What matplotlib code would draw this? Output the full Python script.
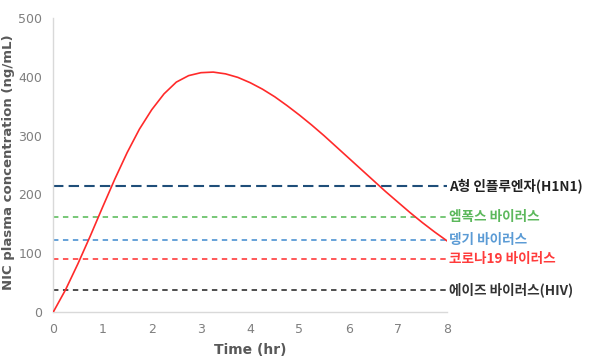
import matplotlib
matplotlib.use('Agg')
import matplotlib.pyplot as plt
from matplotlib import font_manager

# NIC plasma concentration curve
time_hr = [0, 0.25, 0.5, 0.75, 1.0, 1.25, 1.5, 1.75, 2.0, 2.25, 2.5, 2.75, 3.0, 3.25,
           3.5, 3.75, 4.0, 4.25, 4.5, 4.75, 5.0, 5.25, 5.5, 5.75, 6.0, 6.25, 6.5,
           6.75, 7.0, 7.25, 7.5, 7.75, 8.0]
conc = [0, 38, 82, 129, 178, 226, 271, 311, 344, 371, 391, 402, 407, 408,
        405, 399, 390, 379, 366, 351, 335, 318, 300, 281, 262, 243, 224,
        205, 187, 169, 152, 136, 121]

# threshold lines per virus
virus_names = ['A형 인플루엔자(H1N1)', '엠폭스 바이러스', '뎅기 바이러스',
               '코로나19 바이러스', '에이즈 바이러스(HIV)']
virus_levels = [214, 162, 122, 90, 37]
line_colors = ['#1f4e79', '#6cc36c', '#5b9bd5', '#ff4b4b', '#404040']
text_colors = ['#222222', '#5cb85c', '#5b9bd5', '#ff3b3b', '#333333']
dash_styles = [(0, (5, 2.5)), (0, (3, 2.5)), (0, (3, 2.5)), (0, (3, 2.5)), (0, (3, 2.5))]
line_widths = [1.5, 1.3, 1.3, 1.3, 1.3]

names = {f.name for f in font_manager.fontManager.ttflist}
narrow = 'Liberation Sans Narrow' if 'Liberation Sans Narrow' in names else 'DejaVu Sans'

fig = plt.figure(figsize=(6.0, 3.63), dpi=100)
ax = fig.add_axes([53.3 / 600, 51 / 363, (447 - 53.3) / 600, (312 - 18) / 363])

ax.plot(time_hr, conc, color='#ff2a2a', linewidth=1.2, zorder=3,
        solid_joinstyle='round')

for name, lvl, lc, tc, ds, lw in zip(virus_names, virus_levels, line_colors,
                                     text_colors, dash_styles, line_widths):
    ax.plot([0, 8], [lvl, lvl], color=lc, linestyle=ds, linewidth=lw, zorder=2)
    ax.text(8.05, lvl, name, color=tc, fontsize=9.8, fontweight='bold',
            family=['Noto Sans CJK KR', 'DejaVu Sans'], va='center', ha='left',
            clip_on=False)

ax.set_xlim(0, 8)
ax.set_ylim(0, 500)
ax.set_xticks(range(0, 9))
ax.set_yticks(range(0, 501, 100))
for s in ['top', 'right']:
    ax.spines[s].set_visible(False)
for s in ['left', 'bottom']:
    ax.spines[s].set_color('#d9d9d9')
    ax.spines[s].set_linewidth(1.0)
ax.tick_params(length=0, labelsize=9, labelcolor='#7f7f7f', pad=8)
for lab in ax.get_xticklabels() + ax.get_yticklabels():
    lab.set_family(narrow)

ax.set_xlabel('Time (hr)', fontsize=10, fontweight='bold', color='#595959',
              family=narrow)
ax.xaxis.set_label_coords(0.5, -0.105)
ax.set_ylabel('NIC plasma concentration (ng/mL)', fontsize=9.5, fontweight='bold',
              color='#595959')
ax.yaxis.set_label_coords(-0.097, 0.51)

fig.savefig('out.png', dpi=100)
